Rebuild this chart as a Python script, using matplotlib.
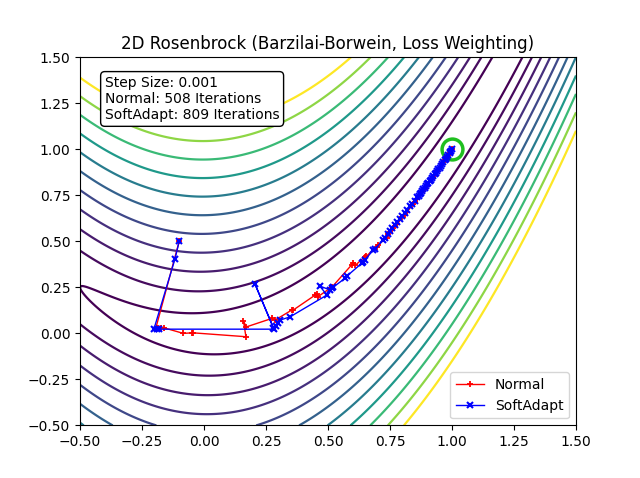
import numpy as np
import matplotlib
matplotlib.use("Agg")
import matplotlib.pyplot as plt

# contour levels given as sqrt(f) values
level_roots = [1.5, 2.5, 3.5, 4.5, 5.5, 6.5, 7.5, 8.5, 9.5, 10.5, 11.5]

# Normal trajectory
normal_x = [-0.10, -0.195, -0.184, -0.173, -0.161, -0.083, -0.05, -0.043, 0.169, 0.159,
            0.17, 0.273, 0.286, 0.354, 0.36, 0.448, 0.454, 0.46, 0.508, 0.515,
            0.595, 0.602, 0.61, 0.649, 0.655, 0.696, 0.70, 0.736, 0.74, 0.76,
            0.77, 0.78, 0.80, 0.81, 0.82, 0.84, 0.85, 0.86, 0.88, 0.89,
            0.90, 0.92, 0.93, 0.94, 0.96, 0.97, 0.98, 0.99, 1.0]
normal_y = [0.50, 0.025, 0.03, 0.03, 0.03, 0.0, 0.003, 0.003, -0.018, 0.069,
            0.035, 0.081, 0.072, 0.127, 0.127, 0.208, 0.212, 0.20, 0.245, 0.25,
            0.372, 0.381, 0.37, 0.417, 0.42, 0.472, 0.48, 0.518, 0.54, 0.56,
            0.585, 0.595, 0.63, 0.645, 0.66, 0.70, 0.715, 0.73, 0.77, 0.785,
            0.80, 0.84, 0.86, 0.88, 0.92, 0.94, 0.96, 0.98, 1.0]

# SoftAdapt trajectory
soft_x = [-0.10, -0.117, -0.202, -0.19, -0.18, 0.282, 0.206, 0.28, 0.29, 0.30,
          0.306, 0.347, 0.495, 0.468, 0.508, 0.515, 0.52, 0.569, 0.575, 0.636,
          0.642, 0.649, 0.683, 0.69, 0.723, 0.73, 0.74, 0.75, 0.76, 0.77,
          0.78, 0.79, 0.80, 0.81, 0.82, 0.83, 0.84, 0.85, 0.86, 0.865,
          0.87, 0.875, 0.88, 0.885, 0.89, 0.895, 0.90, 0.905, 0.91, 0.915,
          0.92, 0.925, 0.93, 0.935, 0.94, 0.945, 0.95, 0.955, 0.96, 0.965,
          0.97, 0.975, 0.98, 0.985, 0.99, 0.993, 0.996, 1.0]
soft_y = [0.50, 0.405, 0.023, 0.023, 0.023, 0.023, 0.267, 0.03, 0.04, 0.058,
          0.072, 0.09, 0.208, 0.257, 0.236, 0.245, 0.25, 0.30, 0.31, 0.381,
          0.39, 0.399, 0.454, 0.46, 0.508, 0.52, 0.54, 0.555, 0.575, 0.59,
          0.605, 0.62, 0.64, 0.655, 0.67, 0.69, 0.705, 0.72, 0.74, 0.748,
          0.755, 0.765, 0.775, 0.782, 0.79, 0.80, 0.81, 0.818, 0.83, 0.836,
          0.845, 0.855, 0.865, 0.873, 0.885, 0.892, 0.90, 0.91, 0.92, 0.93,
          0.94, 0.95, 0.96, 0.97, 0.98, 0.986, 0.992, 1.0]

info = "Step Size: 0.001\nNormal: 508 Iterations\nSoftAdapt: 809 Iterations"


def rosenbrock(x, y):
    return (1 - x) ** 2 + 100 * (y - x ** 2) ** 2


xs = np.linspace(-0.5, 1.5, 400)
ys = np.linspace(-0.5, 1.5, 400)
X, Y = np.meshgrid(xs, ys)
Z = rosenbrock(X, Y)

fig, ax = plt.subplots(figsize=(6.4, 4.78), dpi=100)
ax.contour(X, Y, Z, levels=np.array(level_roots) ** 2, cmap='viridis', linewidths=1.6)

ax.plot([1.0], [1.0], 'o', markersize=15, markerfacecolor='none',
        markeredgecolor='#1fbf1f', markeredgewidth=2.5)
ax.plot(normal_x, normal_y, color='red', marker='+', markersize=4, markeredgewidth=1.3,
        linewidth=1, label='Normal')
ax.plot(soft_x, soft_y, color='blue', marker='x', markersize=4, markeredgewidth=1.5,
        linewidth=1, label='SoftAdapt')

ax.text(0.05, 0.95, info, transform=ax.transAxes, va='top', fontsize=10,
        bbox=dict(boxstyle='round', facecolor='white', edgecolor='black'))

ax.set_xlim(-0.5, 1.5)
ax.set_ylim(-0.5, 1.5)
ax.set_title("2D Rosenbrock (Barzilai-Borwein, Loss Weighting)")
ax.legend(loc='lower right')

plt.savefig("out.png", dpi=100)
